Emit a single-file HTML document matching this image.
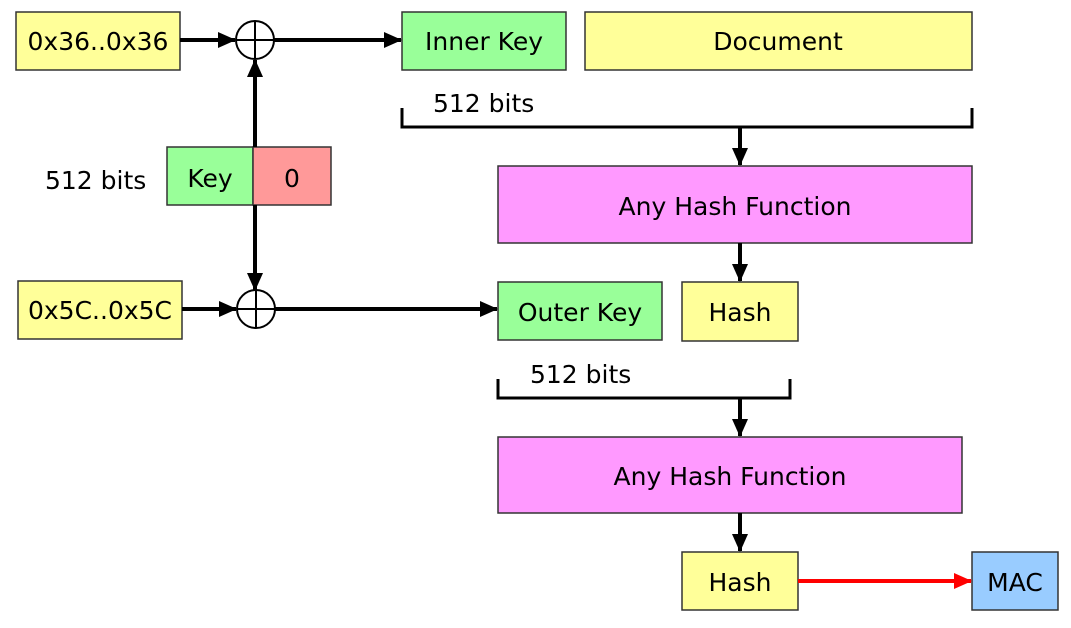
<!DOCTYPE html>
<html><head><style>
body{margin:0;background:#fff;}
svg text{font-family:"DejaVu Sans","Liberation Sans",sans-serif;font-size:25px;fill:#000;}
</style></head><body>
<svg width="1071" height="623" viewBox="0 0 1071 623" xmlns="http://www.w3.org/2000/svg">
<defs>
<marker id="ab" markerWidth="18" markerHeight="16" refX="17" refY="8" orient="auto" markerUnits="userSpaceOnUse"><path d="M0,0 L18,8 L0,16 z" fill="#000"/></marker>
<marker id="r" markerWidth="18" markerHeight="16" refX="17" refY="8" orient="auto" markerUnits="userSpaceOnUse"><path d="M0,0 L18,8 L0,16 z" fill="#f00"/></marker>
</defs>
<g stroke="#333" stroke-width="1.5">
<rect x="16" y="12" width="164" height="58" fill="#ffff99"/>
<rect x="402" y="12" width="164" height="58" fill="#99ff99"/>
<rect x="585" y="12" width="387" height="58" fill="#ffff99"/>
<rect x="498" y="166" width="474" height="77" fill="#ff99ff"/>
<rect x="167" y="147" width="86" height="58" fill="#99ff99"/>
<rect x="253" y="147" width="78" height="58" fill="#ff9999"/>
<rect x="18" y="281" width="164" height="58" fill="#ffff99"/>
<rect x="498" y="282" width="164" height="58" fill="#99ff99"/>
<rect x="682" y="282" width="116" height="59" fill="#ffff99"/>
<rect x="498" y="437" width="464" height="76" fill="#ff99ff"/>
<rect x="682" y="552" width="116" height="58" fill="#ffff99"/>
<rect x="972" y="552" width="86" height="58" fill="#99ccff"/>
</g>
<g stroke="#000" stroke-width="4" fill="none">
<line x1="180" y1="40" x2="235" y2="40" marker-end="url(#ab)"/>
<line x1="274" y1="40" x2="401" y2="40" marker-end="url(#ab)"/>
<line x1="255" y1="147" x2="255" y2="60" marker-end="url(#ab)"/>
<line x1="255" y1="205" x2="255" y2="290" marker-end="url(#ab)"/>
<line x1="182" y1="309" x2="236" y2="309" marker-end="url(#ab)"/>
<line x1="275" y1="309" x2="497" y2="309" marker-end="url(#ab)"/>
<path d="M402,108 V127 H972 V108" stroke-width="3"/>
<line x1="740" y1="127" x2="740" y2="165" marker-end="url(#ab)"/>
<line x1="740" y1="243" x2="740" y2="281" marker-end="url(#ab)"/>
<path d="M498,379 V398 H790 V379" stroke-width="3"/>
<line x1="740" y1="398" x2="740" y2="436" marker-end="url(#ab)"/>
<line x1="740" y1="513" x2="740" y2="551" marker-end="url(#ab)"/>
<line x1="798" y1="581" x2="971" y2="581" stroke="#f00" marker-end="url(#r)"/>
</g>
<g stroke="#000" stroke-width="2" fill="#fff">
<circle cx="255" cy="40" r="19"/><line x1="236" y1="40" x2="274" y2="40"/><line x1="255" y1="21" x2="255" y2="59"/>
<circle cx="256" cy="309" r="19"/><line x1="237" y1="309" x2="275" y2="309"/><line x1="256" y1="290" x2="256" y2="328"/>
</g>
<g text-anchor="middle">
<text x="98" y="50">0x36..0x36</text>
<text x="484" y="50">Inner Key</text>
<text x="778" y="50">Document</text>
<text x="735" y="215">Any Hash Function</text>
<text x="210" y="187">Key</text>
<text x="292" y="187">0</text>
<text x="100" y="319">0x5C..0x5C</text>
<text x="580" y="321">Outer Key</text>
<text x="740" y="321">Hash</text>
<text x="730" y="485">Any Hash Function</text>
<text x="740" y="591">Hash</text>
<text x="1015" y="591">MAC</text>
</g>
<text x="433" y="112">512 bits</text>
<text x="45" y="189">512 bits</text>
<text x="530" y="383">512 bits</text>
</svg>
</body></html>
